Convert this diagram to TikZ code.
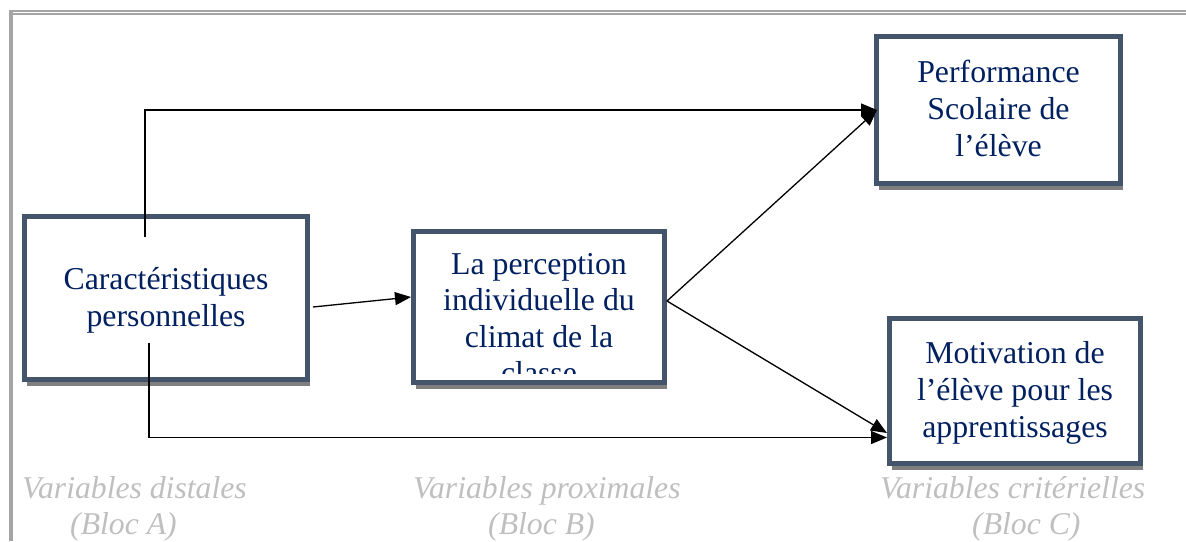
\documentclass[tikz,border=0pt]{standalone}
\usepackage{fontspec}
\setmainfont{Liberation Serif}
\usetikzlibrary{arrows.meta,shadows}
\definecolor{bordc}{RGB}{68,84,106}
\definecolor{txtc}{RGB}{0,32,96}
\definecolor{lblc}{RGB}{191,191,191}
\definecolor{framec}{RGB}{165,165,165}
\newcommand\lnstrut{\rule[-8.7pt]{0pt}{37pt}}
\newcommand\lnstrutb{\rule[-8.2pt]{0pt}{36.5pt}}
\begin{document}
\begin{tikzpicture}[x=1pt,y=-1pt,
  box/.style={draw=bordc, line width=5pt, fill=white, inner sep=0pt,
    align=center, text=txtc, font=\fontsize{31.8}{37}\selectfont,
    drop shadow={shadow xshift=2pt, shadow yshift=-6.5pt, fill=black, opacity=0.5}},
  inner/.style={inner sep=0pt, align=center, text=txtc, font=\fontsize{31.8}{36.5}\selectfont},
  lbl/.style={inner sep=0pt, anchor=base west, text=lblc, font=\fontsize{31.7}{36}\selectfont\itshape},
  arr/.style={draw=black, line width=1.3pt, -{Triangle[length=16pt,width=13pt]}},
  frame/.style={draw=framec}]
\useasboundingbox (0,0) rectangle (1186,541);
% frame
\draw[frame, line width=2pt] (9,11) -- (1186,11);
\draw[frame, line width=2pt] (13,14.3) -- (1186,14.3);
\draw[frame, line width=4pt] (11,10) -- (11,541);
% boxes
\node[box, minimum width=283pt, minimum height=163pt] (b1) at (166,298)
  {\lnstrut Caractéristiques\\\lnstrut personnelles};
\node[box, minimum width=251pt, minimum height=151pt] (b2) at (539,307) {};
\begin{scope}
  \clip (416,234) rectangle (662,373);
  \node[inner, anchor=north] (b2t) at (539,245.7)
    {\lnstrutb La perception\\\lnstrutb individuelle du\\\lnstrutb climat de la\\\lnstrutb classe};
\end{scope}
\node[box, minimum width=244pt, minimum height=147pt] (b3) at (998.5,110)
  {\lnstrut Performance\\\lnstrut Scolaire de\\\lnstrut l’élève};
\node[box, minimum width=251pt, minimum height=145pt] (b4) at (1015,391)
  {\lnstrut Motivation de\\\lnstrut l’élève pour les\\\lnstrut apprentissages};
% connectors
\coordinate (s1) at (145,237);
\coordinate (s2) at (149,343);
\coordinate (s3) at ([yshift=6pt]b2.east);
\draw[arr] (s1) |- ([xshift=3pt]b3.west);
\draw[arr] (s2) |- ([yshift=-46.5pt]b4.west);
\draw[arr] ([xshift=3pt,yshift=-9pt]b1.east) -- ([yshift=10pt]b2.west);
\draw[arr] (s3) -- ([xshift=3pt]b3.west);
\draw[arr] (s3) -- ([yshift=-42pt]b4.west);
% labels
\node[lbl] (la1) at (22,498) {Variables distales};
\node[lbl] (la2) at (70,534) {(Bloc A)};
\node[lbl] (lb1) at (413,498) {Variables proximales};
\node[lbl] (lb2) at (488,534) {(Bloc B)};
\node[lbl] (lc1) at (880,498) {Variables critérielles};
\node[lbl] (lc2) at (972,534) {(Bloc C)};
\end{tikzpicture}
\end{document}
